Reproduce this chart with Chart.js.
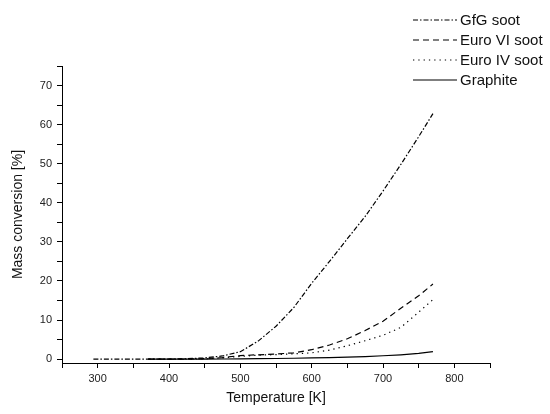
<!DOCTYPE html>
<html lang="en">
<head>
    <meta charset="UTF-8">
    <script src="https://cdn.jsdelivr.net/npm/chart.js"></script>
    <title>Mass conversion</title>
    <style>
        body { margin: 0; background: #fff; }
        #box { width: 550px; height: 414px; }
    </style>
</head>
<body>
    <div id="box"><canvas id="myChartCanvas"></canvas></div>
<script>
    // valores
    const gfgTemp = [294, 325, 350, 375, 400, 425, 450, 475, 500, 525, 550, 575, 600, 625, 650, 675, 700, 725, 750, 770];
    const gfgSoot = [0, 0, 0, 0, 0, 0.1, 0.3, 0.8, 1.9, 4.6, 8.4, 13.2, 19.4, 25.0, 30.8, 36.5, 43.0, 49.8, 56.9, 62.8];

    const sootTemp = [371, 400, 425, 450, 475, 500, 525, 550, 575, 600, 625, 650, 675, 700, 725, 750, 770];
    const euroVI = [0, 0, 0, 0.1, 0.4, 0.9, 1.1, 1.3, 1.6, 2.4, 3.6, 5.2, 7.3, 9.7, 13.0, 16.2, 19.2];
    const euroIV = [0, 0, 0, 0.05, 0.3, 0.7, 1.0, 1.15, 1.35, 1.6, 2.3, 3.4, 4.7, 6.1, 8.1, 12.0, 15.2];
    const graphite = [0, 0, 0, 0, 0.02, 0.05, 0.1, 0.15, 0.22, 0.3, 0.4, 0.5, 0.65, 0.85, 1.1, 1.45, 1.9];

    const fonte = '"Liberation Sans", Arial, sans-serif';

    function pontos(xs, ys) {
        let out = [];
        for (let i = 0; i < xs.length; i++) {
            out.push({ x: xs[i], y: ys[i] });
        }
        return out;
    }

    function serie(label, xs, ys, dash) {
        return {
            label: label,
            data: pontos(xs, ys),
            showLine: true,
            fill: false,
            borderColor: '#000',
            borderWidth: 1.2,
            borderDash: dash,
            pointRadius: 0,
            tension: 0
        };
    }

    // legenda desenhada à mão no canto superior direito
    const legendaPlugin = {
        id: 'legenda',
        afterDraw(chart) {
            const ctx = chart.ctx;
            const ds = chart.data.datasets;
            ctx.save();
            ctx.font = '15px ' + fonte;
            ctx.fillStyle = '#111';
            ctx.textBaseline = 'middle';
            for (let i = 0; i < ds.length; i++) {
                let y = 20 + i * 20;
                ctx.beginPath();
                ctx.setLineDash(ds[i].borderDash || []);
                ctx.lineWidth = 1.2;
                ctx.strokeStyle = '#000';
                ctx.moveTo(413, y);
                ctx.lineTo(457, y);
                ctx.stroke();
                ctx.fillText(ds[i].label, 460, y + 1);
            }
            ctx.restore();
        }
    };

    const config = {
        type: 'scatter',
        data: {
            datasets: [
                serie('GfG soot', gfgTemp, gfgSoot, [5, 2, 1.5, 2]),
                serie('Euro VI soot', sootTemp, euroVI, [6, 4]),
                serie('Euro IV soot', sootTemp, euroIV, [1.3, 4]),
                serie('Graphite', sootTemp, graphite, [])
            ]
        },
        options: {
            responsive: true,
            maintainAspectRatio: false,
            animation: false,
            layout: { padding: { top: 66, right: 60, bottom: 0, left: 0 } },
            plugins: {
                legend: { display: false },
                tooltip: { enabled: false }
            },
            scales: {
                x: {
                    type: 'linear',
                    min: 250,
                    max: 850,
                    afterFit: function (s) { s.height = 51; },
                    ticks: {
                        stepSize: 50,
                        includeBounds: false,
                        autoSkip: false,
                        maxRotation: 0,
                        padding: 4,
                        color: '#222',
                        font: { size: 11, family: fonte },
                        callback: function (v) { return (v % 100 === 0 && v >= 300 && v <= 800) ? v : ''; }
                    },
                    grid: { drawOnChartArea: false, drawTicks: true, tickLength: 5, tickColor: '#000' },
                    border: { display: true, color: '#000', width: 1 },
                    title: {
                        display: true,
                        text: 'Temperature [K]',
                        color: '#111',
                        font: { size: 14, family: fonte },
                        padding: { top: 0, bottom: 7 }
                    }
                },
                y: {
                    min: -1,
                    max: 75,
                    afterFit: function (s) { s.width = 62; },
                    ticks: {
                        stepSize: 5,
                        includeBounds: false,
                        autoSkip: false,
                        padding: 5,
                        color: '#222',
                        font: { size: 11, family: fonte },
                        callback: function (v) { return (v % 10 === 0) ? v : ''; }
                    },
                    grid: { drawOnChartArea: false, drawTicks: true, tickLength: 5, tickColor: '#000' },
                    border: { display: true, color: '#000', width: 1 },
                    title: {
                        display: true,
                        text: 'Mass conversion [%]',
                        color: '#111',
                        font: { size: 14, family: fonte },
                        padding: { top: 10, bottom: 0 }
                    }
                }
            }
        },
        plugins: [legendaPlugin]
    };

    let myChart = new Chart(document.getElementById('myChartCanvas'), config);
</script>
</body>
</html>
